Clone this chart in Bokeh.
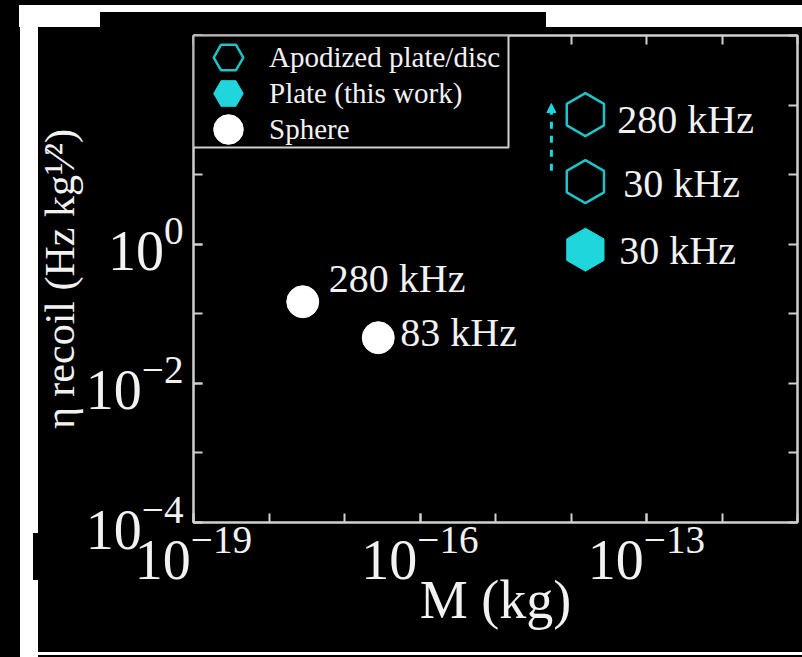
import math
from bokeh.plotting import figure
from bokeh.models import (Range1d, FixedTicker, LogAxis, Legend, LegendItem,
                          BoxAnnotation, Arrow, NormalHead, GlobalInlineStyleSheet,
                          CustomJSTickFormatter)
from bokeh.embed import file_html
from bokeh.resources import INLINE
from bokeh.core.properties import value

# ---------------- data ----------------
sphere_mass = [2.8e-18, 2.8e-17]
sphere_eta = [0.149, 0.0453]
sphere_freq = ["280 kHz", "83 kHz"]

apod_mass = [1.55e-14, 1.55e-14]
apod_eta = [72.9, 7.94]
apod_freq = ["280 kHz", "30 kHz"]

plate_mass = [1.55e-14]
plate_eta = [0.836]
plate_freq = ["30 kHz"]

arrow_mass = 5.5e-15
arrow_eta = [11.4, 105.0]

x_tick_exps = list(range(-19, -10))
y_tick_exps = list(range(-4, 4))
x_label_exps = [-19, -16, -13]
y_label_exps = [-4, -2, 0]

x_title = "M (kg)"
y_title = "η recoil (Hz kg¹⁄²)"
legend_labels = ["Apodized plate/disc", "Plate (this work)", "Sphere"]

# ---------------- style ----------------
FONT = "Liberation Serif"
TXT = "#f2f2f2"
FRAME = "#d0d0d0"
CYAN = "#1fd6dc"
CYAN_LINE = "#1cc3c8"

W, H = 802, 657
FL, FR, FT, FB = 193, 797, 35, 522
XMIN_E, XMAX_E, YMIN_E, YMAX_E = -19, -11, -4, 3

# screenshot-style white frame around the slide, drawn as page background
css = """
body {
  background-color: #000000;
  background-image: linear-gradient(#000,#000), linear-gradient(#000,#000),
                    linear-gradient(#fff,#fff), linear-gradient(#fff,#fff),
                    linear-gradient(#fff,#fff);
  background-position: 100px 12px, 33px 533px, 19px 5px, 20px 5px, 35px 652px;
  background-size: 446px 15px, 6px 47px, 783px 22px, 18px 652px, 767px 3px;
  background-repeat: no-repeat;
}
"""

p = figure(width=W, height=H, x_axis_type="log", y_axis_type="log",
           x_range=Range1d(10.0 ** XMIN_E, 10.0 ** XMAX_E),
           y_range=Range1d(10.0 ** YMIN_E, 10.0 ** YMAX_E),
           output_backend="svg", toolbar_location=None,
           min_border_left=FL, min_border_right=W - FR, min_border_top=FT,
           min_border_bottom=H - FB)
p.stylesheets = [GlobalInlineStyleSheet(css=css)]
p.background_fill_color = "black"
p.border_fill_color = "black"
p.border_fill_alpha = 0
p.outline_line_color = FRAME
p.outline_line_width = 2
p.grid.visible = False

top_axis = LogAxis()
right_axis = LogAxis()
p.add_layout(top_axis, "above")
p.add_layout(right_axis, "right")
bottom_axis = p.below[0]
left_axis = p.left[0]

bottom_axis.ticker = FixedTicker(ticks=[10.0 ** e for e in x_label_exps],
                                 minor_ticks=[10.0 ** e for e in x_tick_exps])
left_axis.ticker = FixedTicker(ticks=[10.0 ** e for e in y_label_exps],
                               minor_ticks=[10.0 ** e for e in y_tick_exps])
top_axis.ticker = FixedTicker(ticks=[10.0 ** e for e in x_tick_exps])
right_axis.ticker = FixedTicker(ticks=[10.0 ** e for e in y_tick_exps])

for ax in [bottom_axis, left_axis, top_axis, right_axis]:
    ax.major_tick_in = 9
    ax.major_tick_out = 0
    ax.minor_tick_in = 9
    ax.minor_tick_out = 0
    ax.major_tick_line_color = FRAME
    ax.minor_tick_line_color = FRAME
    ax.major_tick_line_width = 2
    ax.minor_tick_line_width = 2
    ax.axis_line_color = FRAME
    ax.axis_line_width = 2

for ax in [top_axis, right_axis]:
    ax.formatter = CustomJSTickFormatter(code="return ' '")
    ax.major_label_text_font_size = "8px"
    ax.major_label_text_alpha = 0
    ax.major_label_standoff = 0

for ax in [bottom_axis, left_axis]:
    ax.major_label_text_font = FONT
    ax.major_label_text_font_size = "56px"
    ax.major_label_text_color = TXT
    ax.axis_label_text_font = FONT
    ax.axis_label_text_font_style = "normal"
    ax.axis_label_text_color = TXT

bottom_axis.major_label_standoff = 4
bottom_axis.axis_label = x_title
bottom_axis.axis_label_text_font_size = "54px"
bottom_axis.axis_label_standoff = -12

left_axis.major_label_standoff = 10
left_axis.axis_label = y_title
left_axis.axis_label_text_font_size = "42px"
left_axis.axis_label_standoff = 0

# ---------------- markers ----------------
r_sphere = p.scatter(sphere_mass, sphere_eta, marker="circle", size=32,
                     fill_color="white", line_color="white")
r_apod = p.scatter(apod_mass, apod_eta, marker="hex", size=43, angle=math.pi / 2,
                   fill_color=None, line_color=CYAN_LINE, line_width=2.5)
r_plate = p.scatter(plate_mass, plate_eta, marker="hex", size=43, angle=math.pi / 2,
                    fill_color=CYAN, line_color=CYAN)

# point labels
lab_kw = dict(text_font=value(FONT), text_font_size="40px", text_color=TXT,
              text_baseline="alphabetic", text_align="left")
p.text(x=sphere_mass[:1], y=sphere_eta[:1], text=sphere_freq[:1],
       x_offset=26, y_offset=-23, **lab_kw)
p.text(x=sphere_mass[1:], y=sphere_eta[1:], text=sphere_freq[1:],
       x_offset=22, y_offset=-5, **lab_kw)
p.text(x=apod_mass[:1], y=apod_eta[:1], text=apod_freq[:1],
       x_offset=32, y_offset=5, **lab_kw)
p.text(x=apod_mass[1:], y=apod_eta[1:], text=apod_freq[1:],
       x_offset=38, y_offset=2, **lab_kw)
p.text(x=plate_mass, y=plate_eta, text=plate_freq,
       x_offset=34, y_offset=1, **lab_kw)

# ---------------- arrow ----------------
p.add_layout(Arrow(end=NormalHead(size=9, fill_color=CYAN, line_color=CYAN),
                   x_start=arrow_mass, y_start=arrow_eta[0],
                   x_end=arrow_mass, y_end=arrow_eta[1],
                   line_color=CYAN, line_width=3, line_dash="7 7"))


# pixel -> data helpers (legend box only)
def dx(px):
    return 10.0 ** (XMIN_E + (px - FL) * (XMAX_E - XMIN_E) / (FR - FL))


def dy(py):
    return 10.0 ** (YMIN_E + (FB - py) * (YMAX_E - YMIN_E) / (FB - FT))


# legend box
p.add_layout(BoxAnnotation(left=dx(FL), right=dx(508), top=dy(FT), bottom=dy(147),
                           fill_color="black", fill_alpha=1, level="overlay",
                           line_color=FRAME, line_width=2, line_alpha=1))

# ---------------- legend (one per entry, stacked) ----------------
leg_renderers = [r_apod, r_plate, r_sphere]
GL = 74
leg_centers = [57, 93, 129]
for lab, rend, cy in zip(legend_labels, leg_renderers, leg_centers):
    ly = FB - (cy + GL / 2)
    lg = Legend(items=[LegendItem(label=lab, renderers=[rend])],
                location=(-2, ly), margin=0, padding=0, spacing=0,
                glyph_height=GL, glyph_width=GL, label_standoff=4,
                border_line_color=None, background_fill_alpha=0,
                label_text_color=TXT, label_text_font=FONT,
                label_text_font_size="29px", level="overlay")
    p.add_layout(lg)

open("out.html", "w").write(file_html(p, INLINE))
